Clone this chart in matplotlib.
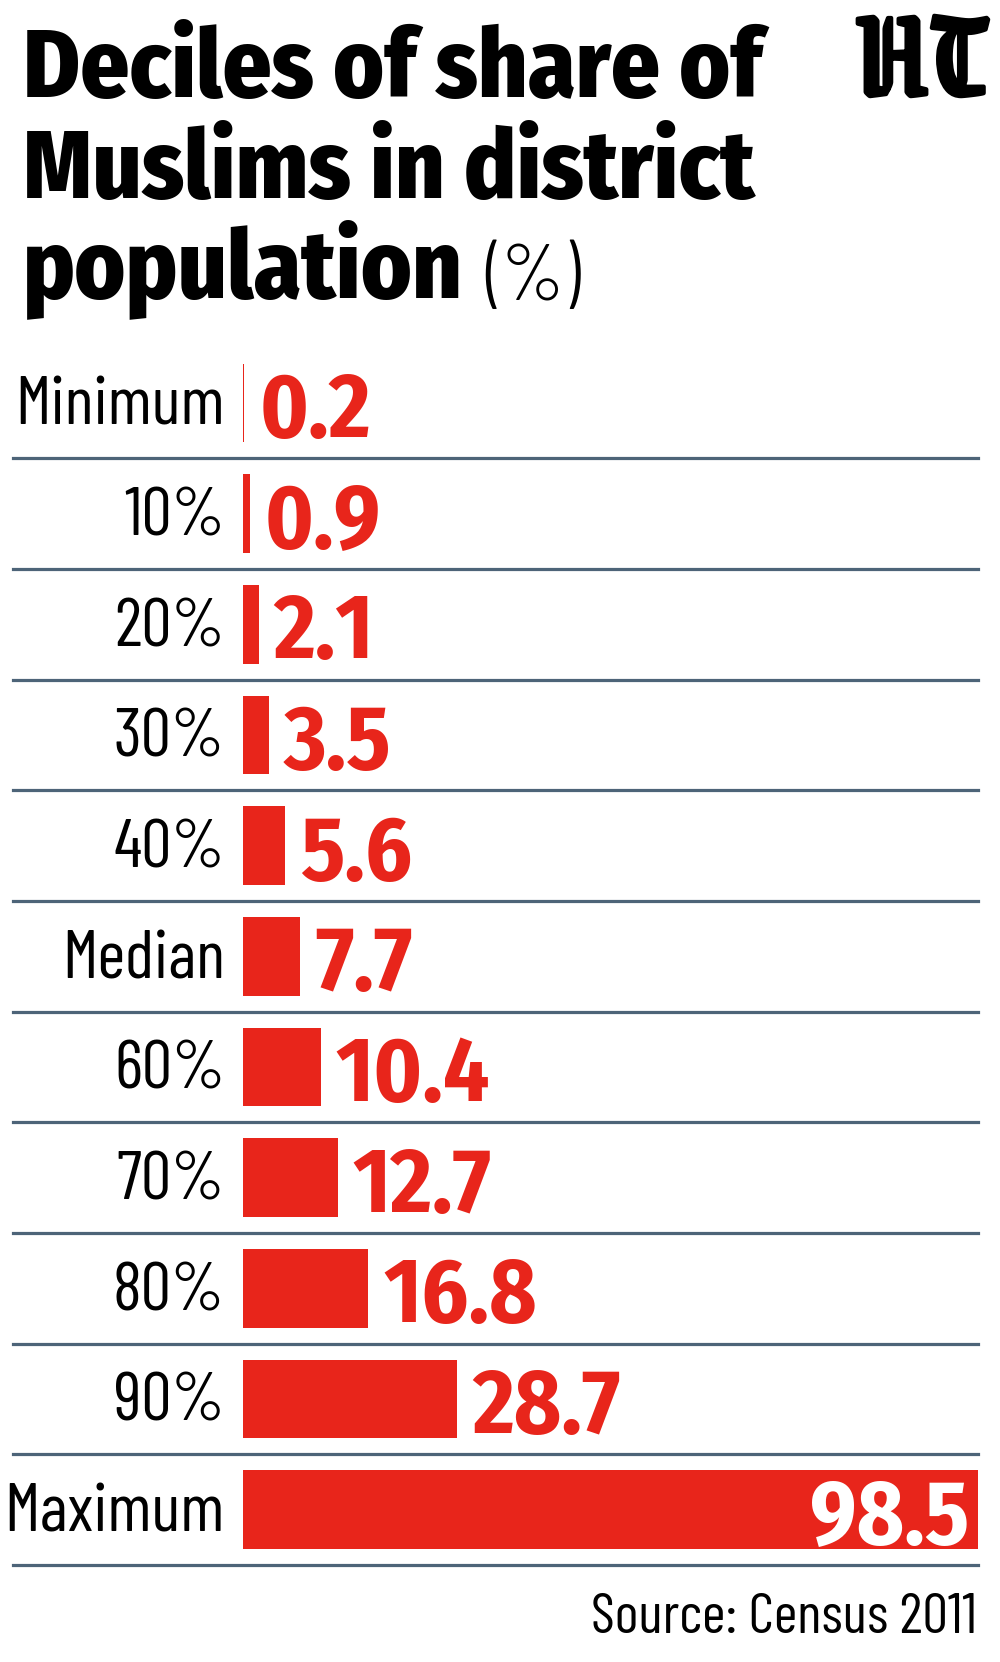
import matplotlib
matplotlib.use("Agg")
import matplotlib.pyplot as plt
import matplotlib.patheffects as pe

# data
labels = ["Minimum", "10%", "20%", "30%", "40%", "Median", "60%", "70%", "80%", "90%", "Maximum"]
values = [0.2, 0.9, 2.1, 3.5, 5.6, 7.7, 10.4, 12.7, 16.8, 28.7, 98.5]
title_lines = ["Deciles of share of", "Muslims in district", "population"]
unit = "(%)"
source = "Source: Census 2011"

RED = "#e8251b"
LINE = "#4d6478"
W, H = 1000, 1662

cond = ["Barlow Condensed", "Fira Sans Extra Condensed", "DejaVu Sans"]
bold_cond = ["Fira Sans Condensed", "DejaVu Sans"]

fig = plt.figure(figsize=(W / 100, H / 100), dpi=100)

def fx(x):
    return x / W

def fy(y):
    return 1 - y / H

# title
baselines = [97, 198, 297]
for line, yb in zip(title_lines, baselines):
    t = fig.text(fx(23), fy(yb), line, fontsize=69, fontweight=800, family=bold_cond,
                 color="black", va="baseline", ha="left")
renderer = fig.canvas.get_renderer()
bb = t.get_window_extent(renderer)
fig.text((bb.x1 + 22) / W, fy(300), unit, fontsize=58, fontweight=300, family=cond,
         color="black", va="baseline", ha="left")

# HT logo
fig.text(fx(987), fy(95), "HT", fontsize=92, family=["Grenze Gotisch", "DejaVu Serif"],
         color="black", ha="right", va="baseline",
         path_effects=[pe.withStroke(linewidth=3, foreground="black")])

# bar area
top_px, bot_px = 347.6, 1565
ax = fig.add_axes([fx(243), fy(bot_px), 735 / W, (bot_px - top_px) / H])
ax.set_xlim(0, max(values))
ax.set_ylim(len(values) - 0.5, -0.5)
ax.axis("off")

y = list(range(len(values)))
ax.barh(y, values, height=0.71, color=RED, linewidth=0)

for i in y:
    ax.axhline(i + 0.5, xmin=-0.313, xmax=1.0, color=LINE, linewidth=2.3, clip_on=False)

for i, (lab, v) in enumerate(zip(labels, values)):
    ax.annotate(lab, xy=(0, i), xytext=(-18, -22), textcoords="offset pixels",
                ha="right", va="baseline", fontsize=49, family=cond, color="black")
    if v == max(values):
        ax.annotate(f"{v}", xy=(v, i), xytext=(-9, -34), textcoords="offset pixels",
                    ha="right", va="baseline", fontsize=65, fontweight=700,
                    family=bold_cond, color="white")
    else:
        ax.annotate(f"{v}", xy=(v, i), xytext=(15, -34), textcoords="offset pixels",
                    ha="left", va="baseline", fontsize=65, fontweight=700,
                    family=bold_cond, color=RED)

# source
fig.text(fx(977), fy(1633), source, fontsize=41, family=cond, color="black",
         ha="right", va="baseline")

fig.savefig("out.png", dpi=100, facecolor="white")
